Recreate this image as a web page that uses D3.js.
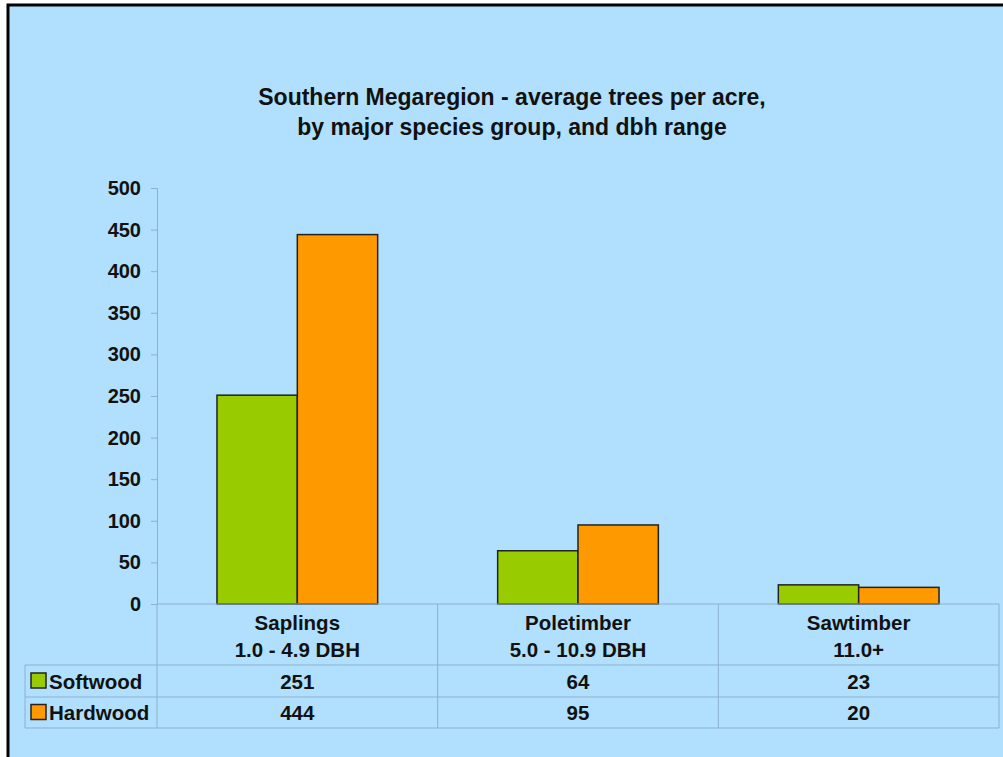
<!DOCTYPE html>
<html>
<head>
<meta charset="utf-8">
<script src="https://cdn.jsdelivr.net/npm/d3@7"></script>
<style>
body { margin: 0; background: #fff; }
text { font-family: "Liberation Sans", Arial, sans-serif; font-weight: bold; fill: #111; }
</style>
</head>
<body>
<div id="root"></div>
<script>
var width = 1003;
var height = 757;

// data
var categories = ["Saplings", "Poletimber", "Sawtimber"];
var categorySub = ["1.0 - 4.9 DBH", "5.0 - 10.9 DBH", "11.0+"];
var seriesNames = ["Softwood", "Hardwood"];
var softwood = [251, 64, 23];
var hardwood = [444, 95, 20];
var yTicks = [0, 50, 100, 150, 200, 250, 300, 350, 400, 450, 500];

var colors = ["#99cc00", "#ff9900"];
var seriesValues = [softwood, hardwood];

var svg = d3.select("#root")
  .append("svg")
  .attr("width", width)
  .attr("height", height);

// background + black frame (only top/left edges show)
svg.append("rect")
  .attr("x", 8).attr("y", 5)
  .attr("width", 1010).attr("height", 770)
  .attr("fill", "#b0e0fd")
  .attr("stroke", "#000")
  .attr("stroke-width", 3);

// title
svg.append("text")
  .attr("x", 512).attr("y", 105)
  .attr("text-anchor", "middle")
  .style("font-size", "23px")
  .text("Southern Megaregion - average trees per acre,");
svg.append("text")
  .attr("x", 512).attr("y", 135)
  .attr("text-anchor", "middle")
  .style("font-size", "23px")
  .text("by major species group, and dbh range");

var y = d3.scaleLinear()
  .domain([0, 500])
  .range([604, 188]);

var x0 = d3.scaleBand()
  .domain(categories)
  .range([157, 999])
  .paddingInner(0.4275)
  .paddingOuter(0.2137);

var x1 = d3.scaleBand()
  .domain(seriesNames)
  .range([0, x0.bandwidth()]);

var axisColor = "#8db0cf";

// y axis
var yAxis = d3.axisLeft(y)
  .tickValues(yTicks)
  .tickSize(6)
  .tickPadding(10);

var yg = svg.append("g")
  .attr("transform", "translate(157,0)")
  .call(yAxis);
yg.select(".domain").attr("stroke", axisColor);
yg.selectAll(".tick line").attr("stroke", axisColor);
yg.selectAll(".tick text")
  .style("font-size", "20px")
  .attr("fill", "#111");

// bars
var groups = svg.append("g")
  .selectAll("g")
  .data(categories)
  .enter()
  .append("g")
  .attr("transform", function(d) { return "translate(" + x0(d) + ",0)"; });

groups.selectAll("rect")
  .data(function(d, i) {
    return seriesNames.map(function(s, j) {
      return { series: s, value: seriesValues[j][i], color: colors[j] };
    });
  })
  .enter()
  .append("rect")
  .attr("x", function(d) { return x1(d.series); })
  .attr("y", function(d) { return y(d.value); })
  .attr("width", x1.bandwidth())
  .attr("height", function(d) { return y(0) - y(d.value); })
  .attr("fill", function(d) { return d.color; })
  .attr("stroke", "#222")
  .attr("stroke-width", 1.5);

// data table below the axis
var step = x0.step();
var tableLeft = 25;
var rowLines = [604, 665, 697, 728];
var grid = svg.append("g")
  .attr("stroke", axisColor)
  .attr("stroke-width", 1)
  .attr("fill", "none");

// horizontal lines
grid.append("line").attr("x1", 157).attr("x2", 999).attr("y1", rowLines[0]).attr("y2", rowLines[0]);
[1, 2, 3].forEach(function(i) {
  grid.append("line").attr("x1", tableLeft).attr("x2", 999).attr("y1", rowLines[i]).attr("y2", rowLines[i]);
});
// vertical lines
categories.forEach(function(c, i) {
  var xl = 157 + i * step;
  grid.append("line").attr("x1", xl).attr("x2", xl).attr("y1", 604).attr("y2", 728);
});
grid.append("line").attr("x1", 999).attr("x2", 999).attr("y1", 604).attr("y2", 728);
grid.append("line").attr("x1", tableLeft).attr("x2", tableLeft).attr("y1", 665).attr("y2", 728);

// category labels
categories.forEach(function(c, i) {
  var cx = x0(c) + x0.bandwidth() / 2;
  svg.append("text")
    .attr("x", cx).attr("y", 630)
    .attr("text-anchor", "middle")
    .style("font-size", "20.5px")
    .text(c);
  svg.append("text")
    .attr("x", cx).attr("y", 657)
    .attr("text-anchor", "middle")
    .style("font-size", "20.5px")
    .text(categorySub[i]);
});

// series rows
seriesNames.forEach(function(s, j) {
  var rowMid = (rowLines[j + 1] + rowLines[j + 2]) / 2;
  svg.append("rect")
    .attr("x", 31).attr("y", rowMid - 8)
    .attr("width", 15).attr("height", 15)
    .attr("fill", colors[j])
    .attr("stroke", "#222")
    .attr("stroke-width", 1.5);
  svg.append("text")
    .attr("x", 49).attr("y", rowMid + 7.5)
    .style("font-size", "20.5px")
    .text(s);
  categories.forEach(function(c, i) {
    svg.append("text")
      .attr("x", x0(c) + x0.bandwidth() / 2)
      .attr("y", rowMid + 7.5)
      .attr("text-anchor", "middle")
      .style("font-size", "20.5px")
      .text(seriesValues[j][i]);
  });
});
</script>
</body>
</html>
